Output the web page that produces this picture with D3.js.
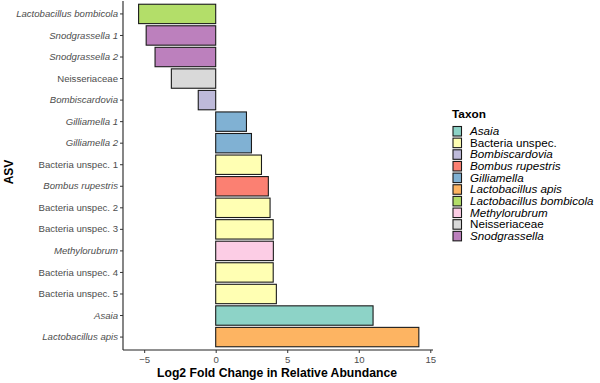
<!DOCTYPE html>
<html><head><meta charset="utf-8">
<script src="https://cdn.jsdelivr.net/npm/d3@7"></script>
<style>body{margin:0;background:#fff}svg{display:block;font-family:"Liberation Sans",Arial,Helvetica,sans-serif}</style>
</head><body><svg id="c" width="600" height="383"></svg>
<script>
const asvs = ["Lactobacillus bombicola","Snodgrassella 1","Snodgrassella 2","Neisseriaceae","Bombiscardovia","Gilliamella 1","Gilliamella 2","Bacteria unspec. 1","Bombus rupestris","Bacteria unspec. 2","Bacteria unspec. 3","Methylorubrum","Bacteria unspec. 4","Bacteria unspec. 5","Asaia","Lactobacillus apis"];
const values = [-5.39,-4.86,-4.24,-3.10,-1.22,2.15,2.50,3.20,3.68,3.80,4.02,4.03,4.02,4.24,11.0,14.2];
const taxonOf = ["Lactobacillus bombicola","Snodgrassella","Snodgrassella","Neisseriaceae","Bombiscardovia","Gilliamella","Gilliamella","Bacteria unspec.","Bombus rupestris","Bacteria unspec.","Bacteria unspec.","Methylorubrum","Bacteria unspec.","Bacteria unspec.","Asaia","Lactobacillus apis"];
const italicAsv = [true,true,true,false,true,true,true,false,true,false,false,true,false,false,true,true];
const taxa = ["Asaia","Bacteria unspec.","Bombiscardovia","Bombus rupestris","Gilliamella","Lactobacillus apis","Lactobacillus bombicola","Methylorubrum","Neisseriaceae","Snodgrassella"];
const taxaItalic = [true,false,true,true,true,true,true,true,false,true];
const taxaColors = ["#8DD3C7","#FFFFB3","#BEBADA","#FB8072","#80B1D3","#FDB462","#B3DE69","#FCCDE5","#D9D9D9","#BC80BD"];
const xTicks = [-5,0,5,10,15];

const svg = d3.select("#c");
const L=123, R=433, T=1, B=350;
const x = d3.scaleLinear().domain([-6.48,15.19]).range([L,R]);
const y = d3.scaleBand().domain(asvs).range([T,B]).paddingInner(0.1).paddingOuter(0.15);
const color = d3.scaleOrdinal().domain(taxa).range(taxaColors);

const data = asvs.map((a,i)=>({asv:a,v:values[i],taxon:taxonOf[i],it:italicAsv[i]}));

svg.append("g").selectAll("rect").data(data).join("rect")
  .attr("x",d=>x(Math.min(0,d.v))).attr("width",d=>Math.abs(x(d.v)-x(0)))
  .attr("y",d=>y(d.asv)).attr("height",y.bandwidth())
  .attr("fill",d=>color(d.taxon)).attr("stroke","#1a1a1a").attr("stroke-width",1.1);

// y axis
const ya = svg.append("g").attr("transform",`translate(${L},0)`).call(d3.axisLeft(y).tickSize(3).tickPadding(2));
ya.select(".domain").attr("stroke","#222").attr("stroke-width",1.1).attr("d",`M0,${T}V${B}`);
ya.selectAll(".tick line").attr("stroke","#333");
ya.selectAll(".tick text").attr("fill","#4D4D4D").attr("font-size",9.6)
  .attr("font-family","Liberation Sans,Arial,sans-serif")
  .attr("font-style",(d,i)=>italicAsv[i]?"italic":"normal");

// x axis
const xa = svg.append("g").attr("transform",`translate(0,${B})`).call(d3.axisBottom(x).tickValues(xTicks).tickSize(3).tickPadding(3));
xa.select(".domain").attr("stroke","#222").attr("stroke-width",1.1).attr("d",`M${L},0H${R}`);
xa.selectAll(".tick line").attr("stroke","#333");
xa.selectAll(".tick text").attr("fill","#4D4D4D").attr("font-size",9.6).attr("font-family","Liberation Sans,Arial,sans-serif");

svg.append("text").attr("x",277).attr("y",377).attr("text-anchor","middle").attr("font-weight","bold").attr("font-size",12.2).text("Log2 Fold Change in Relative Abundance");
svg.append("text").attr("transform","translate(13,172) rotate(-90)").attr("text-anchor","middle").attr("font-weight","bold").attr("font-size",12).text("ASV");

// legend
const lg = svg.append("g");
lg.append("text").attr("x",452).attr("y",118).attr("font-weight","bold").attr("font-size",11.8).text("Taxon");
const items = lg.selectAll("g.it").data(taxa).join("g").attr("class","it")
  .attr("transform",(d,i)=>`translate(453,${126.5+i*11.65})`);
items.append("rect").attr("width",8.5).attr("height",9.5).attr("fill",d=>color(d)).attr("stroke","#1a1a1a").attr("stroke-width",1.1);
items.append("text").attr("transform","translate(17,8.6) scale(1.12,1)").attr("font-size",10.4)
  .attr("font-style",(d,i)=>taxaItalic[i]?"italic":"normal").text(d=>d);
</script></body></html>
